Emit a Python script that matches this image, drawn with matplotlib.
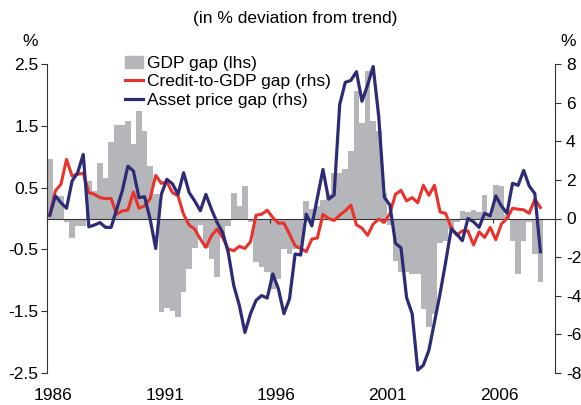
import numpy as np
import matplotlib
matplotlib.use("Agg")
from matplotlib import pyplot as plt
from matplotlib.patches import Patch
from matplotlib.lines import Line2D

plt.rcParams['font.family'] = ['Liberation Sans', 'DejaVu Sans']

# quarterly data, 1986Q1 - 2008Q1
start_year = 1986
gdp_gap = [0.96, 0.37, 0.37, -0.06, -0.32, -0.12, -0.12, 0.6, 0.45, 0.89,
           0.65, 1.24, 1.52, 1.51, 1.57, 1.2, 1.74, 1.42, 0.85, 0.4,
           -1.52, -1.45, -1.5, -1.6, -1.19, -0.82, -0.47, -0.1, -0.47, -0.66,
           -0.95, -0.28, -0.12, 0.42, 0.2, 0.53, -0.06, -0.71, -0.79, -0.87,
           -1.14, -0.98, -0.49, -0.58, -0.49, -0.44, 0.28, 0.15, 0.2, 0.3,
           0.4, 0.74, 0.74, 0.8, 1.09, 2.06, 1.55, 2.38, 1.58, 1.41,
           0.42, -0.1, -0.68, -0.87, -0.87, -0.9, -0.9, -1.46, -1.76, -1.54,
           -0.39, -0.36, -0.17, -0.06, 0.12, 0.1, 0.13, 0.1, 0.38, 0.05,
           0.54, 0.53, 0.05, -0.36, -0.9, -0.36, -0.05, -0.58, -1.03]
credit_gap = [0.17, 1.43, 1.77, 3.06, 2.2, 2.29, 2.34, 1.34, 1.25, 1.08,
              1.03, 1.03, 0.22, 0.4, 0.43, 1.37, 0.53, 0.65, 1.03, 2.23,
              1.82, 1.89, 1.34, 1.17, 0.22, -0.34, -0.55, -1.07, -1.49, -0.89,
              -0.55, -0.98, -1.58, -1.67, -1.44, -1.55, -1.2, 0.17, 0.22, 0.43,
              0.05, -0.24, -0.24, -0.81, -1.41, -1.55, -1.72, -1.07, -1.01, 0.22,
              0.0, -0.1, 0.17, 0.4, 0.69, -0.33, -0.5, -0.87, -0.29, -0.03,
              -0.2, 0.25, 1.25, 1.46, 0.91, 1.08, 0.82, 1.72, 1.2, 1.72,
              0.34, 0.26, -0.46, -0.86, -0.64, -0.64, -1.37, -0.69, -0.98, -0.46,
              -1.1, -0.29, 0.0, 0.53, 0.48, 0.45, 0.27, 1.0, 0.57]
asset_gap = [0.17, 1.17, 0.82, 0.53, 1.94, 2.37, 3.32, -0.43, -0.34, -0.21,
             -0.46, -0.46, 0.48, 1.43, 2.71, 2.46, 1.08, 1.13, -0.03, -1.55,
             1.25, 2.03, 1.8, 1.25, 2.37, 1.34, 0.91, 0.4, 1.25, 0.48,
             -0.2, -0.72, -1.75, -3.47, -4.5, -5.9, -4.93, -4.24, -3.99, -4.12,
             -2.87, -3.64, -4.93, -4.16, -1.84, -1.89, 0.22, -0.38, 1.08, 2.54,
             1.0, 1.22, 5.9, 7.05, 7.15, 7.6, 6.07, 6.9, 7.87, 5.29,
             1.1, 0.7, -1.28, -1.52, -4.1, -4.93, -7.85, -7.6, -6.82, -5.36,
             -3.9, -2.27, -0.55, -0.81, -1.15, 0.0, -0.17, -0.46, 0.27, 0.14,
             1.17, 0.65, 0.27, 1.82, 1.72, 2.49, 1.68, 1.29, -1.72]

years = [1986, 1991, 1996, 2001, 2006]
left_ticks = [2.5, 1.5, 0.5, -0.5, -1.5, -2.5]
right_ticks = [8, 6, 4, 2, 0, -2, -4, -6, -8]

grey = '#b5b6b9'
red = '#e8322b'
blue = '#2d2a76'
axis_col = '#333333'
fs = 12.5

t = start_year + 0.125 + 0.25 * np.arange(len(gdp_gap))

fig = plt.figure(figsize=(5.81, 4.05), dpi=100)
ax = fig.add_axes([47 / 581, 1 - 373 / 405, (555 - 47) / 581, (373 - 64) / 405])

ax.bar(t, gdp_gap, width=0.25, color=grey, linewidth=0)
ax.set_xlim(1986, 2008.78)
ax.set_ylim(-2.5, 2.5)

for s in ['top', 'right']:
    ax.spines[s].set_visible(False)
ax.spines['bottom'].set_position(('data', 0))
ax.spines['bottom'].set_color(axis_col)
ax.spines['left'].set_color(axis_col)
ax.set_xticks(years)
ax.tick_params(axis='x', direction='out', length=3, color=axis_col, labelbottom=False)
ax.set_yticks(left_ticks)
ax.set_yticklabels([str(v) for v in left_ticks])
ax.tick_params(axis='y', direction='out', length=4, pad=2, color=axis_col, labelsize=fs)

for y in years:
    ax.text(y + 0.28, -0.05, str(y), transform=ax.get_xaxis_transform(),
            ha='center', va='top', fontsize=fs)

ax2 = ax.twinx()
ax2.plot(t, credit_gap, color=red, lw=2.2)
ax2.plot(t, asset_gap, color=blue, lw=2.3)
ax2.set_ylim(-8, 8)
ax2.set_xlim(1986, 2008.78)
for s in ['top', 'left', 'bottom']:
    ax2.spines[s].set_visible(False)
ax2.spines['right'].set_color(axis_col)
ax2.set_yticks(right_ticks)
ax2.set_yticklabels([str(v) for v in right_ticks])
ax2.tick_params(axis='y', direction='out', length=4, pad=4, color=axis_col, labelsize=fs)

handles = [Patch(color=grey), Line2D([], [], color=red, lw=2.2), Line2D([], [], color=blue, lw=2.3)]
labels = ['GDP gap (lhs)', 'Credit-to-GDP gap (rhs)', 'Asset price gap (rhs)']
ax2.legend(handles, labels, loc='upper left', bbox_to_anchor=(125 / 581, 1 - 56 / 405),
           bbox_transform=fig.transFigure, frameon=False, borderpad=0, borderaxespad=0,
           handlelength=1.05, handletextpad=0.2, labelspacing=0.18, fontsize=fs)

fig.text(295 / 581, 1 - 18 / 405, '(in % deviation from trend)', ha='center', va='center', fontsize=fs)
fig.text(30 / 581, 1 - 42 / 405, '%', ha='center', va='center', fontsize=fs)
fig.text(568 / 581, 1 - 42 / 405, '%', ha='center', va='center', fontsize=fs)

fig.savefig('out.png', dpi=100)
